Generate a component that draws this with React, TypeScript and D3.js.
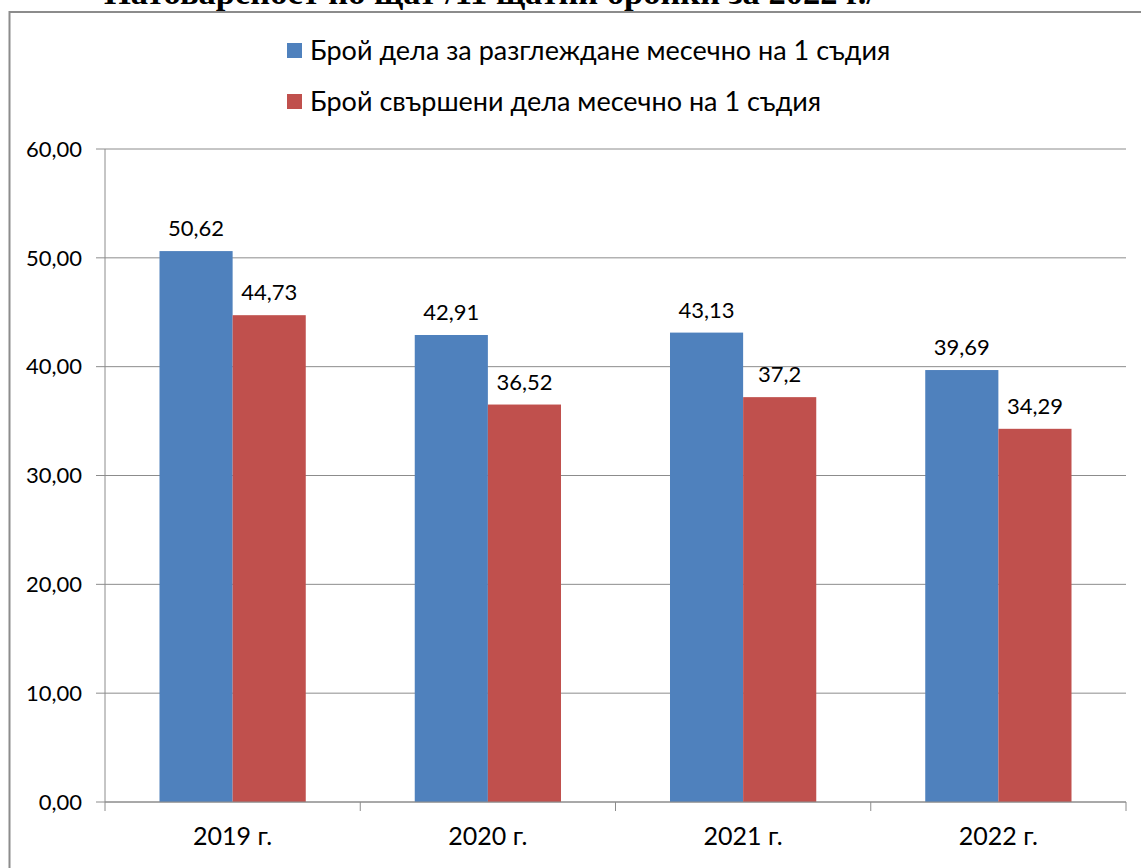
import React from "react";
import * as d3 from "d3";

const categories = ["2019 г.", "2020 г.", "2021 г.", "2022 г."];
const seriesNames = [
  "Брой дела за разглеждане месечно на 1 съдия",
  "Брой свършени дела месечно на 1 съдия",
];
const seriesPending = [50.62, 42.91, 43.13, 39.69];
const seriesDone = [44.73, 36.52, 37.2, 34.29];
const yTicks = [0, 10, 20, 30, 40, 50, 60];
const colors = ["#4F81BD", "#C0504D"];
const title = "Натовареност по щат /11 щатни бройки за 2022 г./";

const W = 1141;
const H = 868;
const left = 105;
const right = 1126;
const top = 149;
const bottom = 802;
const font = "Lato, 'Open Sans', sans-serif";

export default function App() {
  const series = [seriesPending, seriesDone];
  const y = d3.scaleLinear().domain([0, 60]).range([bottom, top]);
  const x = d3
    .scaleBand<string>()
    .domain(categories)
    .range([left, right])
    .paddingInner(0.427)
    .paddingOuter(0.2135);
  const xs = d3
    .scaleBand<string>()
    .domain(["0", "1"])
    .range([0, x.bandwidth()])
    .padding(0);
  const step = x.step();
  const fmt = (v: number) => String(v).replace(".", ",");
  const fmt2 = (v: number) => v.toFixed(2).replace(".", ",");

  return (
    <div style={{ position: "absolute", left: 0, top: 0 }}>
      <svg width={W} height={H} style={{ display: "block" }}>
        <rect x={0} y={0} width={W} height={H} fill="#fff" />
        <text
          x={490}
          y={4}
          textAnchor="middle"
          fontFamily="'Liberation Serif', 'Times New Roman', serif"
          fontWeight="bold"
          fontSize={34.5}
          fill="#000"
        >
          {title}
        </text>
        <rect x={9.5} y={12} width={W + 20} height={H + 20} fill="none" stroke="#8c8c8c" strokeWidth={2} />
        {/* legend */}
        {seriesNames.map((n, i) => (
          <g key={n} transform={`translate(287, ${51 + i * 51})`}>
            <rect x={0} y={-8} width={15} height={15} fill={colors[i]} />
            <text x={23} y={0} dy="0.35em" fontFamily={font} fontSize={27} fill="#000">
              {n}
            </text>
          </g>
        ))}
        {/* grid */}
        {yTicks.map((t) => (
          <g key={t}>
            <line x1={left - 9} x2={right} y1={y(t)} y2={y(t)} stroke="#8c8c8c" strokeWidth={1} />
            <text
              x={82}
              y={y(t)}
              dy="0.35em"
              textAnchor="end"
              fontFamily={font}
              fontSize={22}
              fill="#000"
            >
              {fmt2(t)}
            </text>
          </g>
        ))}
        <line x1={left} x2={left} y1={top} y2={bottom} stroke="#8c8c8c" strokeWidth={1} />
        {/* bars */}
        {categories.map((c, ci) => (
          <g key={c} transform={`translate(${x(c)}, 0)`}>
            {series.map((s, si) => {
              const bx = xs(String(si)) as number;
              return (
                <g key={si}>
                  <rect
                    x={bx}
                    y={y(s[ci])}
                    width={xs.bandwidth()}
                    height={y(0) - y(s[ci])}
                    fill={colors[si]}
                  />
                  <text
                    x={bx + xs.bandwidth() / 2}
                    y={y(s[ci]) - 15}
                    textAnchor="middle"
                    fontFamily={font}
                    fontSize={22}
                    fill="#000"
                  >
                    {fmt(s[ci])}
                  </text>
                </g>
              );
            })}
          </g>
        ))}
        {/* x axis */}
        <line x1={left} x2={right} y1={bottom} y2={bottom} stroke="#8c8c8c" strokeWidth={1} />
        {d3.range(categories.length + 1).map((i) => (
          <line
            key={i}
            x1={left + i * step}
            x2={left + i * step}
            y1={bottom}
            y2={bottom + 9}
            stroke="#8c8c8c"
          />
        ))}
        {categories.map((c) => (
          <text
            key={c}
            x={(x(c) as number) + x.bandwidth() / 2}
            y={836}
            dy="0.35em"
            textAnchor="middle"
            fontFamily={font}
            fontSize={25}
            fill="#000"
          >
            {c}
          </text>
        ))}
      </svg>
    </div>
  );
}
